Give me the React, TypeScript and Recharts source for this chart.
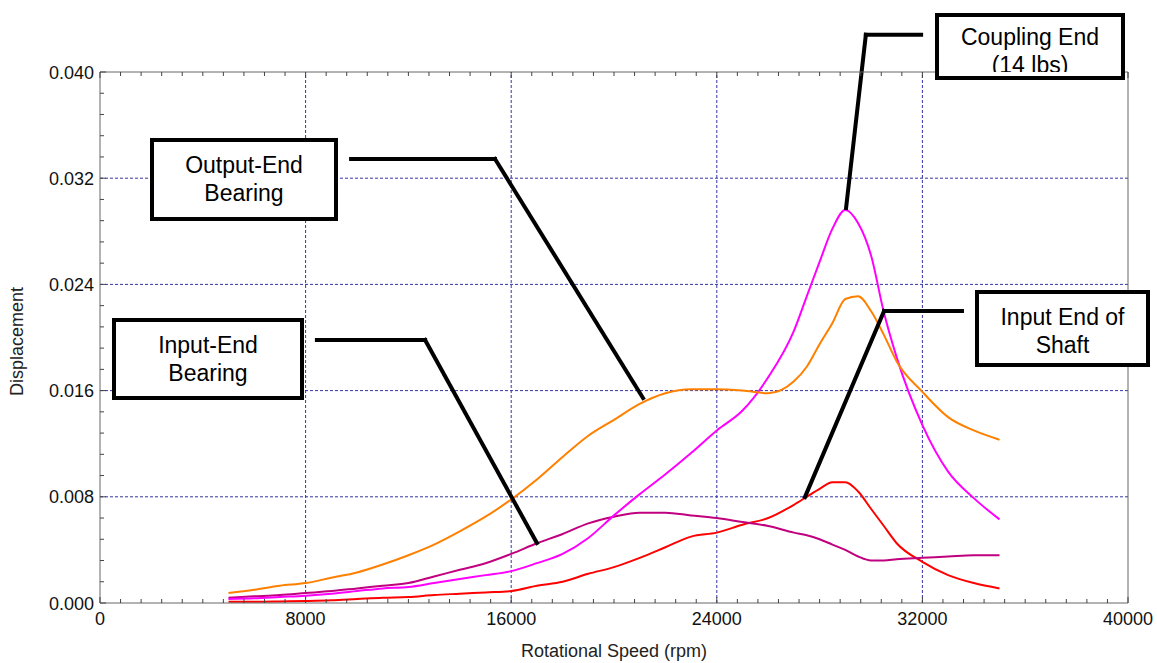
import React from "react";
import {LineChart, Line, XAxis, YAxis, ReferenceLine} from "recharts";

// rotational speed (rpm) sample points
const rpm = [
	5000, 6000, 7000, 8000, 9000, 10000, 11000, 12000, 13000, 14000, 15000, 16000,
	17000, 18000, 19000, 20000, 21000, 22000, 23000, 24000, 25000, 26000, 27000,
	27500, 28000, 28500, 29000, 29500, 30000, 30500, 31000, 32000, 33000, 34000, 35000,
];

// displacement per series
const outputEnd = [
	0.00075, 0.001, 0.0013, 0.0015, 0.0019, 0.0023, 0.0029, 0.0036, 0.0044, 0.0054, 0.0065, 0.0078,
	0.0093, 0.011, 0.0126, 0.0138, 0.015, 0.0158, 0.0161, 0.0161, 0.016, 0.0158, 0.0167,
	0.0178, 0.0195, 0.0211, 0.0229, 0.0231, 0.022, 0.0202, 0.0182, 0.0159, 0.014, 0.013, 0.0123,
];
const couplingEnd = [
	0.0003, 0.00035, 0.00045, 0.00055, 0.0007, 0.0009, 0.0011, 0.0012, 0.0015, 0.0018, 0.0021, 0.0024,
	0.003, 0.0037, 0.0049, 0.0066, 0.0082, 0.0097, 0.0113, 0.013, 0.0145, 0.017, 0.0205,
	0.0231, 0.0257, 0.0282, 0.0296, 0.0286, 0.0262, 0.0219, 0.0185, 0.0134, 0.0099, 0.0079, 0.0063,
];
const inputShaft = [
	0.0001, 0.0001, 0.00012, 0.00015, 0.0002, 0.0003, 0.0004, 0.00045, 0.0006, 0.0007, 0.0008, 0.0009,
	0.0013, 0.0016, 0.0022, 0.0027, 0.0034, 0.0042, 0.005, 0.0053, 0.0059, 0.0064, 0.0074,
	0.008, 0.0086, 0.0091, 0.0091, 0.0084, 0.0071, 0.0058, 0.0045, 0.0031, 0.0021, 0.0015, 0.0011,
];
const inputEnd = [
	0.0004, 0.0005, 0.0006, 0.00075, 0.0009, 0.0011, 0.0013, 0.0015, 0.002, 0.0025, 0.003, 0.0037,
	0.0045, 0.0052, 0.006, 0.0065, 0.0068, 0.0068, 0.0066, 0.0064, 0.0061, 0.0058, 0.0053,
	0.0051, 0.0048, 0.0044, 0.004, 0.0035, 0.0032, 0.0032, 0.0033, 0.0034, 0.0035, 0.0036, 0.0036,
];

const xMajor = [0, 8000, 16000, 24000, 32000, 40000];
const yMajor = [0, 0.008, 0.016, 0.024, 0.032, 0.04];

// minor ticks: 10 per major step on x, 5 per major step on y
const xTicks: number[] = [];
for (let i = 0; i <= 50; i++) xTicks.push(i * 800);
const yTicks: number[] = [];
for (let i = 0; i <= 25; i++) yTicks.push(+(i * 0.0016).toFixed(4));

const rows = rpm.map((r, i) => ({
	rpm: r,
	outputEnd: outputEnd[i],
	couplingEnd: couplingEnd[i],
	inputShaft: inputShaft[i],
	inputEnd: inputEnd[i],
}));

// callout leader lines, in data units [rpm, displacement]
const leaders: [number, number][][] = [
	[[9770, 0.03345], [15370, 0.03345], [21130, 0.01544]],
	[[8440, 0.01981], [12650, 0.01981], [17000, 0.00452]],
	[[33540, 0.022], [30510, 0.022], [27430, 0.00798]],
	[[31950, 0.0428], [29800, 0.0428], [29030, 0.02976]],
];

const FONT = "'Liberation Sans', Arial, sans-serif";
const AXIS = "#666";
const GRID = "#3434a6";

const isMajorX = (v: number) => xMajor.includes(v);
const isMajorY = (v: number) => yMajor.some(m => Math.abs(m - v) < 1e-7);

function BottomTick({x, y, payload}: any) {
	const major = isMajorX(payload.value);
	return (
		<g>
			<line x1={x} x2={x} y1={y} y2={y - (major ? 6 : 4)} stroke="#444"/>
			{major && (
				<text x={x} y={y + 22} textAnchor="middle" fontSize={18} fontFamily={FONT} fill="#111">
					{payload.value}
				</text>
			)}
		</g>
	);
}

function TopTick({x, y, payload}: any) {
	const major = isMajorX(payload.value);
	return <line x1={x} x2={x} y1={y} y2={y + (major ? 6 : 4)} stroke="#444"/>;
}

function LeftTick({x, y, payload}: any) {
	const major = isMajorY(payload.value);
	return (
		<g>
			<line x1={x} x2={x + (major ? 6 : 4)} y1={y} y2={y} stroke="#444"/>
			{major && (
				<text x={x - 6} y={y + 6.5} textAnchor="end" fontSize={18} fontFamily={FONT} fill="#111">
					{payload.value.toFixed(3)}
				</text>
			)}
		</g>
	);
}

function RightTick({x, y, payload}: any) {
	const major = isMajorY(payload.value);
	return <line x1={x} x2={x - (major ? 6 : 4)} y1={y} y2={y} stroke="#444"/>;
}

function Callout({left, top, width, height, lines, clip}: {
	left: number; top: number; width: number; height: number; lines: string[]; clip?: number;
}) {
	return (
		<div style={{
			position: "absolute", left, top, width, height, boxSizing: "border-box",
			border: "4px solid #000", background: "#fff", fontFamily: FONT, fontSize: 23,
			lineHeight: "28px", textAlign: "center", color: "#000",
		}}>
			<div style={{paddingTop: clip ? 6 : 9, height: clip, overflow: "hidden", boxSizing: "border-box"}}>
				{lines.map(l => <div key={l}>{l}</div>)}
			</div>
		</div>
	);
}

export default function App() {
	return (
		<div style={{position: "absolute", left: 0, top: 0, width: 1157, height: 663, background: "#fff"}}>
			<LineChart width={1157} height={663} data={rows} margin={{top: 71, right: 28, bottom: 0, left: 0}}>
				<XAxis xAxisId="b" dataKey="rpm" type="number" domain={[0, 40000]} ticks={xTicks} interval={0}
				       height={60} tickSize={0} tickMargin={0} tickLine={false} axisLine={{stroke: AXIS}}
				       tick={(p: any) => <BottomTick {...p}/>}
				       label={(p: any) => (
					       <text x={p.viewBox.x + p.viewBox.width / 2} y={p.viewBox.y + 54} textAnchor="middle"
					             fontSize={18} fontFamily={FONT} fill="#222">Rotational Speed (rpm)</text>
				       )}/>
				<XAxis xAxisId="t" orientation="top" dataKey="rpm" type="number" domain={[0, 40000]} ticks={xTicks}
				       interval={0} height={1} tickSize={0} tickMargin={0} tickLine={false} axisLine={{stroke: AXIS}}
				       tick={(p: any) => <TopTick {...p}/>}/>
				<YAxis yAxisId="l" type="number" domain={[0, 0.04]} ticks={yTicks} interval={0} width={100}
				       tickSize={0} tickMargin={0} tickLine={false} axisLine={{stroke: AXIS}}
				       tick={(p: any) => <LeftTick {...p}/>}
				       label={(p: any) => {
					       const cy = p.viewBox.y + p.viewBox.height / 2 + 4;
					       return (
						       <text x={23} y={cy} transform={`rotate(-90 23 ${cy})`} textAnchor="middle"
						             fontSize={18} fontFamily={FONT} fill="#222">Displacement</text>
					       );
				       }}/>
				<YAxis yAxisId="r" orientation="right" type="number" domain={[0, 0.04]} ticks={yTicks} interval={0}
				       width={1} tickSize={0} tickMargin={0} tickLine={false} axisLine={{stroke: AXIS}}
				       tick={(p: any) => <RightTick {...p}/>}/>

				{[8000, 16000, 24000, 32000].map(v => (
					<ReferenceLine key={`x${v}`} xAxisId="b" yAxisId="l" x={v} stroke={GRID} strokeDasharray="3 2"/>
				))}
				{[0.008, 0.016, 0.024, 0.032].map(v => (
					<ReferenceLine key={`y${v}`} xAxisId="b" yAxisId="l" y={v} stroke={GRID} strokeDasharray="3 2"/>
				))}

				<Line xAxisId="b" yAxisId="l" type="monotone" dataKey="inputShaft" stroke="#ff0000" strokeWidth={2}
				      dot={false} isAnimationActive={false}/>
				<Line xAxisId="b" yAxisId="l" type="monotone" dataKey="inputEnd" stroke="#c0007f" strokeWidth={2}
				      dot={false} isAnimationActive={false}/>
				<Line xAxisId="b" yAxisId="l" type="monotone" dataKey="couplingEnd" stroke="#ff00ff" strokeWidth={2}
				      dot={false} isAnimationActive={false}/>
				<Line xAxisId="b" yAxisId="l" type="monotone" dataKey="outputEnd" stroke="#ff8000" strokeWidth={2}
				      dot={false} isAnimationActive={false}/>

				{leaders.flatMap((pts, i) => pts.slice(1).map((p, j) => (
					<ReferenceLine key={`l${i}-${j}`} xAxisId="b" yAxisId="l" ifOverflow="visible"
					               segment={[{x: pts[j][0], y: pts[j][1]}, {x: p[0], y: p[1]}]}
					               stroke="#000" strokeWidth={4} strokeLinecap="square"/>
				)))}
			</LineChart>

			<Callout left={150} top={138} width={188} height={83} lines={["Output-End", "Bearing"]}/>
			<Callout left={112} top={318} width={192} height={82} lines={["Input-End", "Bearing"]}/>
			<Callout left={975} top={290} width={175} height={77} lines={["Input End of", "Shaft"]}/>
			<Callout left={935} top={13} width={190} height={67} lines={["Coupling End", "(14 lbs)"]} clip={55}/>
		</div>
	);
}
